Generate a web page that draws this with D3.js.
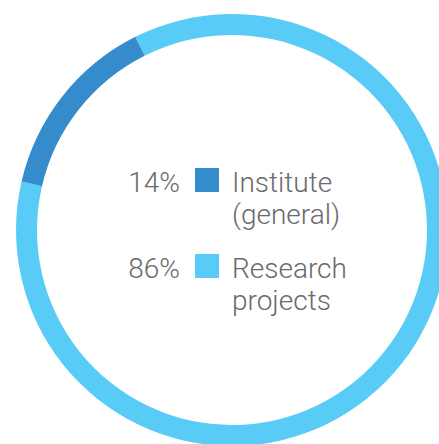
<!DOCTYPE html>
<html>
<head>
<meta charset="utf-8">
<script src="https://cdn.jsdelivr.net/npm/d3@7"></script>
<style>
  body { margin: 0; background: #fff; }
  svg { display: block; }
  text { font-family: "Roboto Light", Roboto, "Noto Sans", sans-serif; font-weight: 300; fill: #6a6a6a; }
</style>
</head>
<body>
<svg></svg>
<script>
let categories = ["Research projects", "Institute (general)"];
let labelLines = [["Research", "projects"], ["Institute", "(general)"]];
let values = [86, 14];
let colors = ["#58ccf6", "#358ccc"];

let width = 439;
let height = 444;
let cx = 232;
let cy = 230;
let outerRadius = 216;
let innerRadius = 195;

let svg = d3.select("svg").attr("width", width).attr("height", height);

// Ring
let pie = d3
  .pie()
  .sort(null)
  .startAngle((-26.6 * Math.PI) / 180)
  .endAngle(((360 - 26.6) * Math.PI) / 180);

let arc = d3.arc().innerRadius(innerRadius).outerRadius(outerRadius);

svg
  .append("g")
  .attr("transform", `translate(${cx}, ${cy})`)
  .selectAll("path")
  .data(pie(values))
  .enter()
  .append("path")
  .attr("d", arc)
  .attr("fill", (d, i) => colors[i]);

// Legend, institute first
let legendOrder = [1, 0];
let rowY = d3.scalePoint().domain(legendOrder).range([192, 278]);

let rows = svg
  .append("g")
  .selectAll("g")
  .data(legendOrder)
  .enter()
  .append("g")
  .attr("transform", (i) => `translate(0, ${rowY(i)})`);

rows
  .append("text")
  .attr("x", 180)
  .attr("text-anchor", "end")
  .style("font-size", "28px")
  .text((i) => values[i] + "%");

rows
  .append("rect")
  .attr("x", 195)
  .attr("y", -24)
  .attr("width", 24)
  .attr("height", 24)
  .attr("fill", (i) => colors[i]);

rows
  .append("text")
  .attr("x", 232)
  .style("font-size", "28px")
  .selectAll("tspan")
  .data((i) => labelLines[i])
  .enter()
  .append("tspan")
  .attr("x", 232)
  .attr("dy", (d, j) => (j === 0 ? 0 : 32))
  .text((d) => d);
</script>
</body>
</html>
